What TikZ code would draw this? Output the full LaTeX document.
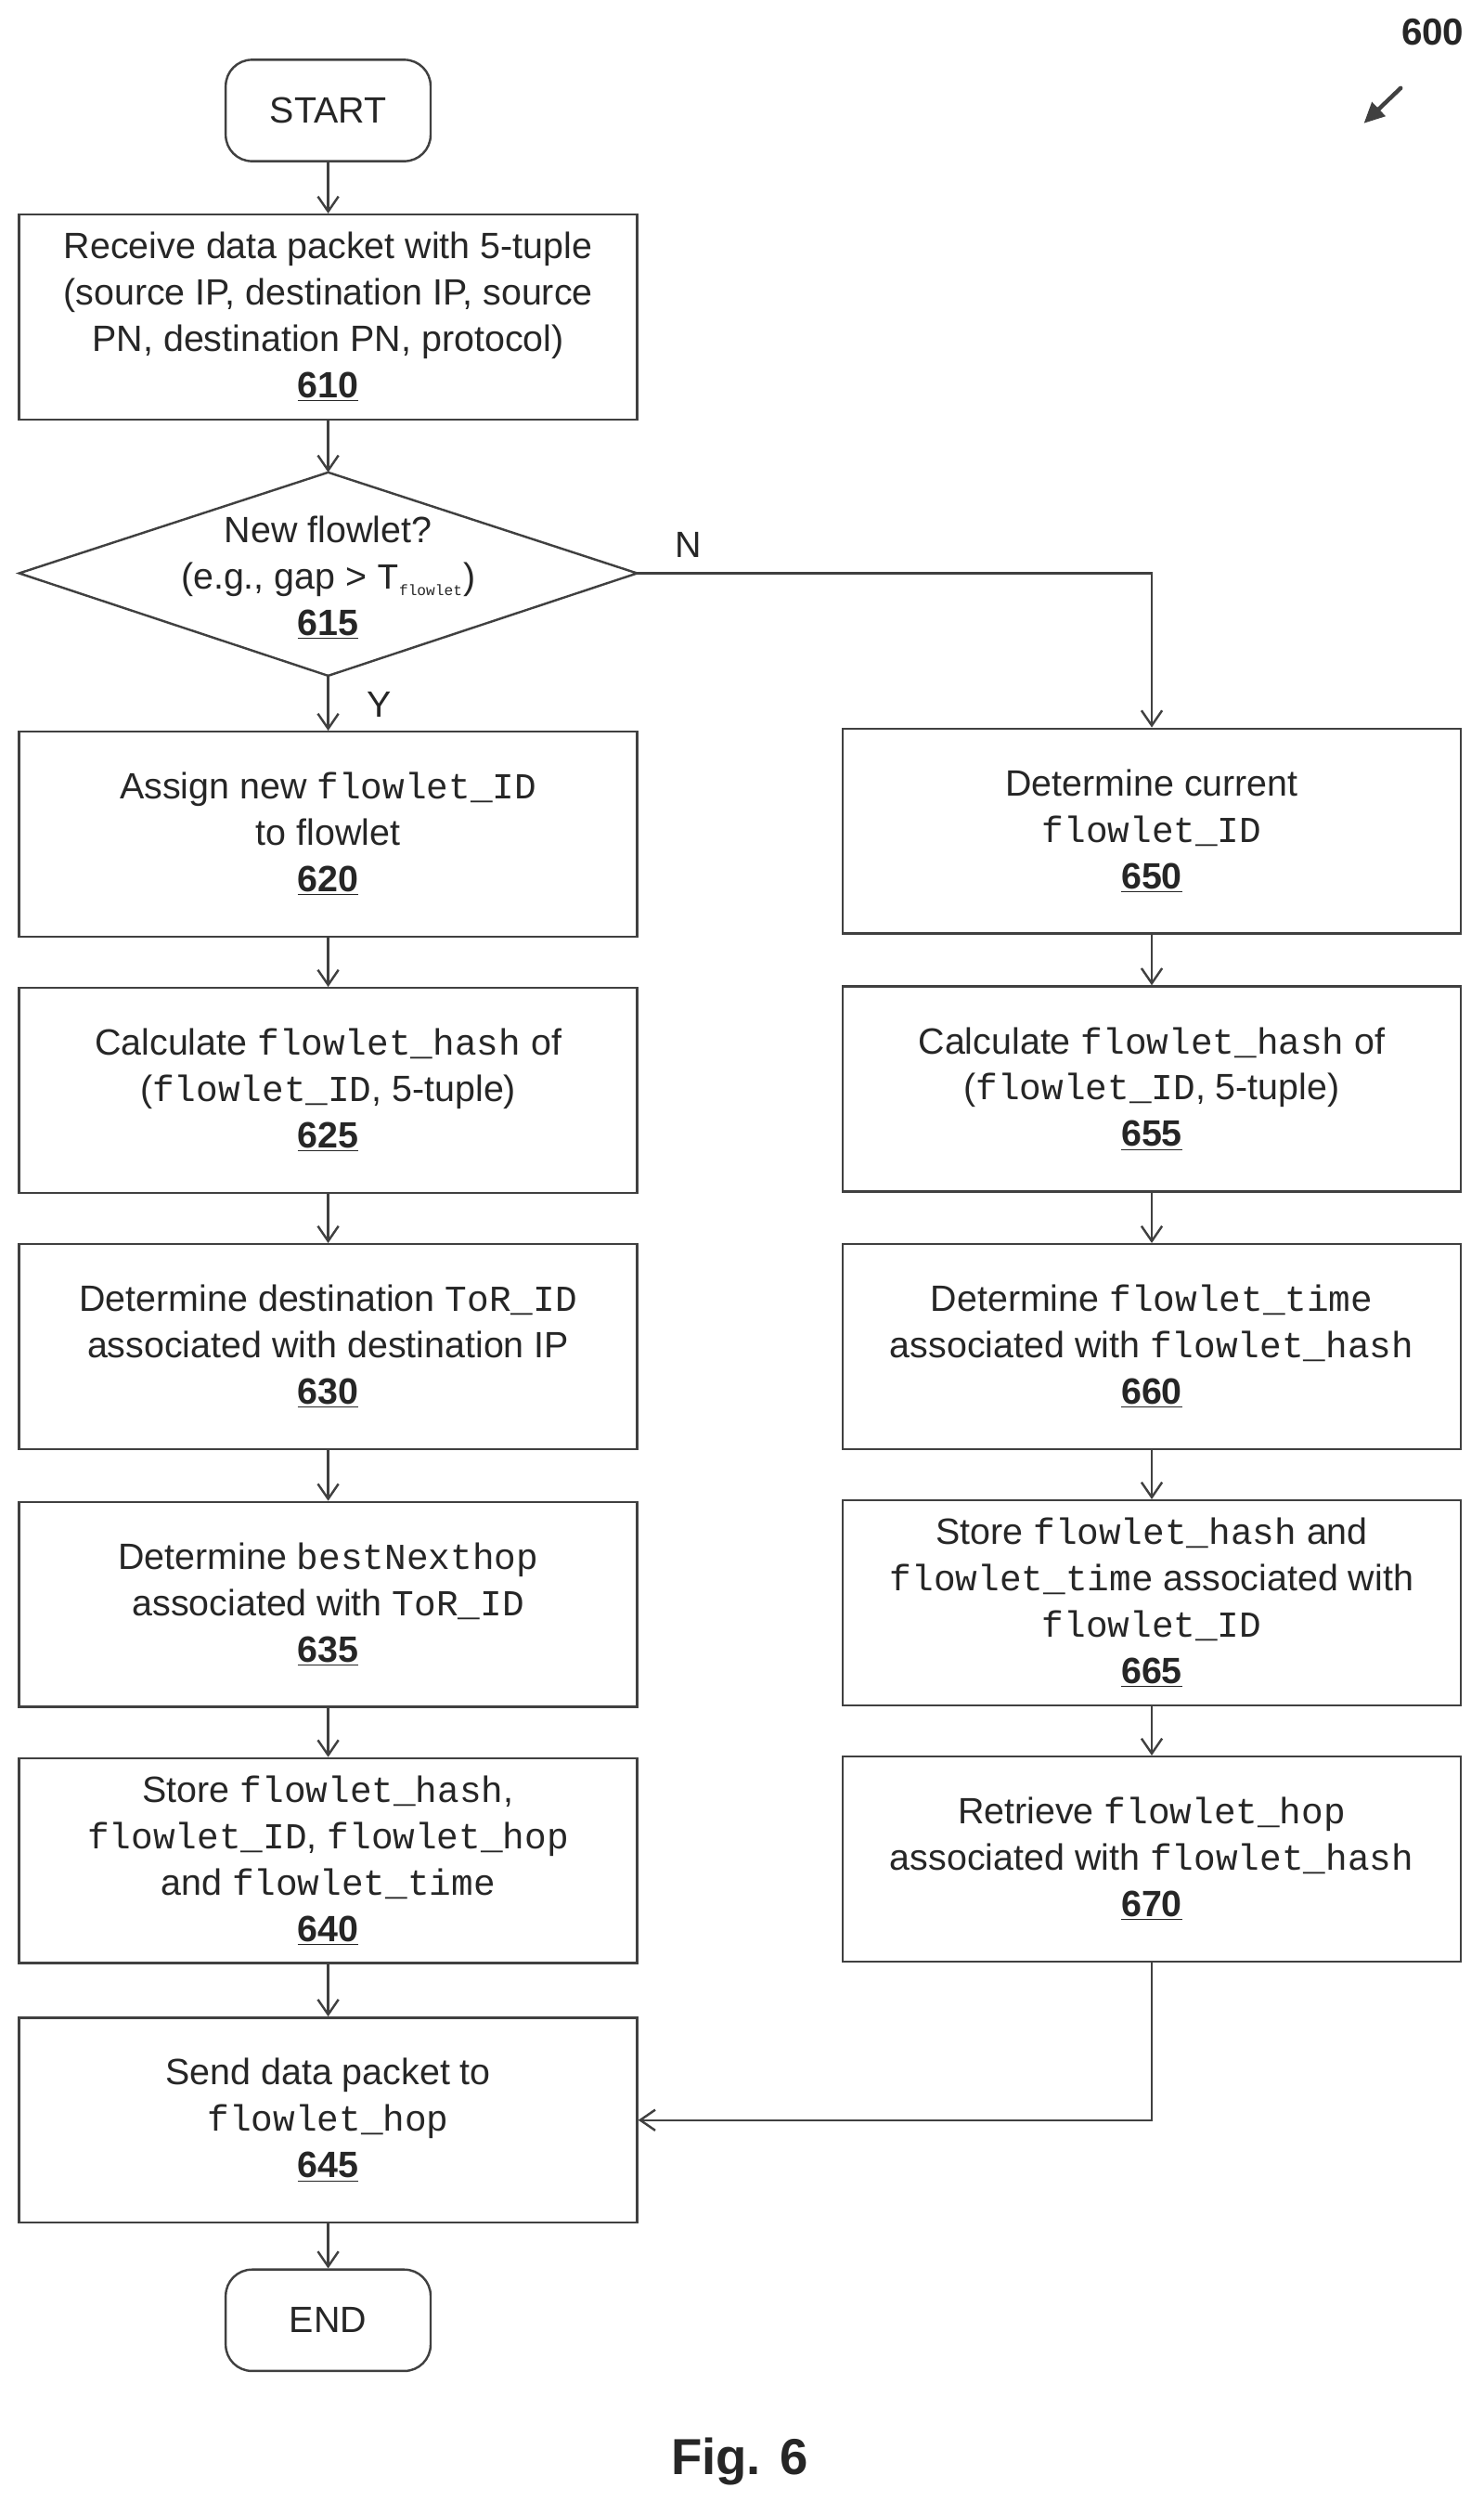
\documentclass[tikz,border=0pt]{standalone}
\usepackage{fontspec}
\setmainfont{Liberation Sans}
\setmonofont{Liberation Mono}
\usetikzlibrary{arrows.meta}
\newcommand{\num}[1]{\textbf{\underline{#1}}}
\newcommand{\code}[1]{\texttt{#1}}
\begin{document}
\begin{tikzpicture}
		[x=0.03cm,y=-0.03cm,line cap=round,
		%Styles
		every node/.style={font=\fontsize{19.5}{24.7}\selectfont,text=black!85},
		step box/.style={draw=black!75,very thick,align=center,minimum width=11.58cm,minimum height=3.84cm,inner sep=2pt},
		end box/.style={draw=black!75,very thick,rounded corners=14pt,minimum width=3.84cm,minimum height=1.9cm},
		flow/.style={very thick,draw=black!75,-{Straight Barb[length=8pt,width=11pt]}}
		]
		\useasboundingbox (0,0) rectangle (927,1570);
		
		%Left column
		\node[end box] (start) at (205,69) {START};
		\node[step box] (s610) at (205,198) {Receive data packet with 5-tuple\\(source IP, destination IP, source\\PN, destination PN, protocol)\\\num{610}};
		% decision diamond
		\coordinate (d615n) at (205,295);
		\coordinate (d615e) at (398,358);
		\coordinate (d615s) at (205,422);
		\coordinate (d615w) at (12,358);
		\draw[very thick,draw=black!75] (d615n) -- (d615e) -- (d615s) -- (d615w) -- cycle;
		\node[align=center] (s615) at (205,361) {New flowlet?\\(e.g., gap > \code{T}$_{\code{\footnotesize flowlet}}$)\\\num{615}};
		\node[step box] (s620) at (205,521) {Assign new \code{flowlet\_ID}\\to flowlet\\\num{620}};
		\node[step box] (s625) at (205,681) {Calculate \code{flowlet\_hash} of\\(\code{flowlet\_ID}, 5-tuple)\\\num{625}};
		\node[step box] (s630) at (205,841) {Determine destination \code{ToR\_ID}\\associated with destination IP\\\num{630}};
		\node[step box] (s635) at (205,1002) {Determine \code{bestNexthop}\\associated with \code{ToR\_ID}\\\num{635}};
		\node[step box] (s640) at (205,1162) {Store \code{flowlet\_hash},\\\code{flowlet\_ID}, \code{flowlet\_hop}\\and \code{flowlet\_time}\\\num{640}};
		\node[step box] (s645) at (205,1324) {Send data packet to\\\code{flowlet\_hop}\\\num{645}};
		\node[end box] (end) at (205,1449) {END};
		
		%Right column
		\node[step box] (s650) at (719.5,519) {Determine current\\\code{flowlet\_ID}\\\num{650}};
		\node[step box] (s655) at (719.5,680) {Calculate \code{flowlet\_hash} of\\(\code{flowlet\_ID}, 5-tuple)\\\num{655}};
		\node[step box] (s660) at (719.5,841) {Determine \code{flowlet\_time}\\associated with \code{flowlet\_hash}\\\num{660}};
		\node[step box] (s665) at (719.5,1001) {Store \code{flowlet\_hash} and\\\code{flowlet\_time} associated with\\\code{flowlet\_ID}\\\num{665}};
		\node[step box] (s670) at (719.5,1161) {Retrieve \code{flowlet\_hop}\\associated with \code{flowlet\_hash}\\\num{670}};
		
		%Connectors
		\foreach \a/\b in {start/s610,s620/s625,s625/s630,s630/s635,s635/s640,s640/s645,s645/end,s650/s655,s655/s660,s660/s665,s665/s670}
			\draw[flow] (\a) -- (\b);
		\draw[flow] (s610) -- (d615n);
		\draw[flow] (d615s) -- (s620);
		\draw[flow] (d615e) -| (s650.north);
		\draw[flow] (s670.south) |- (s645.east);
		\node (ny) at (430,340) {N};
		\node (yy) at (237,440) {Y};
		
		%Labels
		\node[font=\bfseries\fontsize{20}{24}\selectfont] (ref) at (895,20) {600};
		\coordinate (reftail) at (875,55);
		\coordinate (refhead) at (852,77);
		\draw[line width=2.2pt,draw=black!75,-{Triangle[length=11pt,width=10pt]}] (reftail) -- (refhead);
		\node[font=\bfseries\fontsize{27}{30}\selectfont] (fig) at (462,1537) {Fig. 6};
	\end{tikzpicture}
\end{document}
